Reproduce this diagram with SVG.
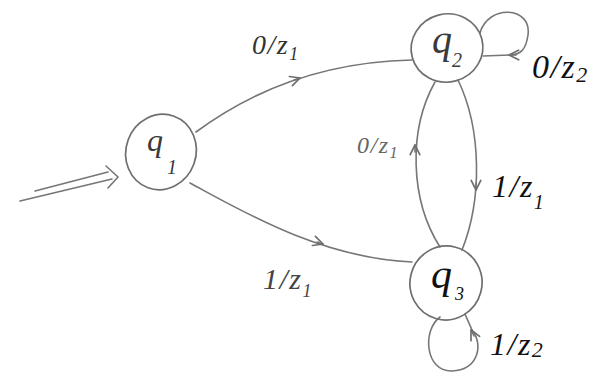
<svg xmlns="http://www.w3.org/2000/svg" width="602" height="373" viewBox="0 0 602 373">
<style>
.st{fill:none;stroke:#6e6e6e;stroke-width:1.7;stroke-linecap:round;stroke-linejoin:round}
.ed{fill:none;stroke:#767676;stroke-width:1.6;stroke-linecap:round}
.ql{font-family:"Liberation Serif",serif;font-style:italic;fill:#3a3a3a}
.lb{font-family:"Liberation Serif",serif;font-style:italic;letter-spacing:1.5px}
</style>
<defs>
<marker id="chev" viewBox="0 0 10 10" refX="9" refY="5" markerWidth="12" markerHeight="12" markerUnits="userSpaceOnUse" orient="auto">
<path d="M1,1 L9,5 L1,9" fill="none" stroke="#6e6e6e" stroke-width="1.4" stroke-linecap="round" stroke-linejoin="round"/>
</marker>
</defs>
<rect width="602" height="373" fill="#ffffff"/>
<g id="connectors">
<path class="ed" d="M196,132 C250,92 320,62 412,60"/>
<path class="ed" d="M294,80 L300,78" marker-end="url(#chev)"/>
<path class="ed" d="M190,183 C240,210 320,258 412,262"/>
<path class="ed" d="M317,242 L323,244" marker-end="url(#chev)"/>
<path class="ed" d="M440,247 C410,200 408,130 435,82"/>
<path class="ed" d="M415,152 L415,145" marker-end="url(#chev)"/>
<path class="ed" d="M458,80 C482,130 482,200 462,250"/>
<path class="ed" d="M476,183 L476,190" marker-end="url(#chev)"/>
<path class="ed" d="M480,33 C488,4 532,6 528,35 C526,50 520,55 510,55 L483,56"/>
<path class="ed" d="M516,55 L509,55" marker-end="url(#chev)"/>
<path class="ed" d="M440,317 C422,330 425,372 452,371 C478,370 484,345 472,330 L465,314"/>
<path class="ed" d="M474,336 L471,330" marker-end="url(#chev)"/>
<path class="ed" d="M20,201 L112,179"/>
<path class="ed" d="M35,191 L108,172"/>
<path class="ed" d="M106,166 L118,177 L108,188"/>
</g>
<g id="q1">
<ellipse class="st" cx="161" cy="152" rx="35" ry="38" transform="rotate(20 161 152)"/>
<text class="ql" x="147" y="151" font-size="32">q</text>
<text class="ql" x="167" y="174" font-size="20">1</text>
</g>
<g id="q2">
<ellipse class="st" cx="447" cy="48" rx="36" ry="34" transform="rotate(-15 447 48)"/>
<text class="ql" x="432" y="53" font-size="40">q</text>
<text class="ql" x="452" y="67" font-size="20">2</text>
</g>
<g id="q3">
<ellipse class="st" cx="446" cy="283" rx="36" ry="37" transform="rotate(15 446 283)"/>
<text class="ql" x="431" y="288" font-size="42" style="fill:#111">q</text>
<text class="ql" x="455" y="300" font-size="18" style="fill:#111">3</text>
</g>
<g id="labels">
<text class="lb" x="252" y="54" font-size="28" fill="#333">0/z<tspan font-size="18" dy="6">1</tspan></text>
<text class="lb" x="532" y="78" font-size="34" fill="#111">0/z<tspan font-size="22" dy="4">2</tspan></text>
<text class="lb" x="357" y="153" font-size="24" fill="#666">0/z<tspan font-size="16" dy="5">1</tspan></text>
<text class="lb" x="492" y="197" font-size="32" fill="#111">1/z<tspan font-size="20" dy="12">1</tspan></text>
<text class="lb" x="263" y="289" font-size="30" fill="#444">1/z<tspan font-size="18" dy="8">1</tspan></text>
<text class="lb" x="490" y="355" font-size="32" fill="#111">1/z<tspan font-size="22" dy="2">2</tspan></text>
</g>
</svg>
